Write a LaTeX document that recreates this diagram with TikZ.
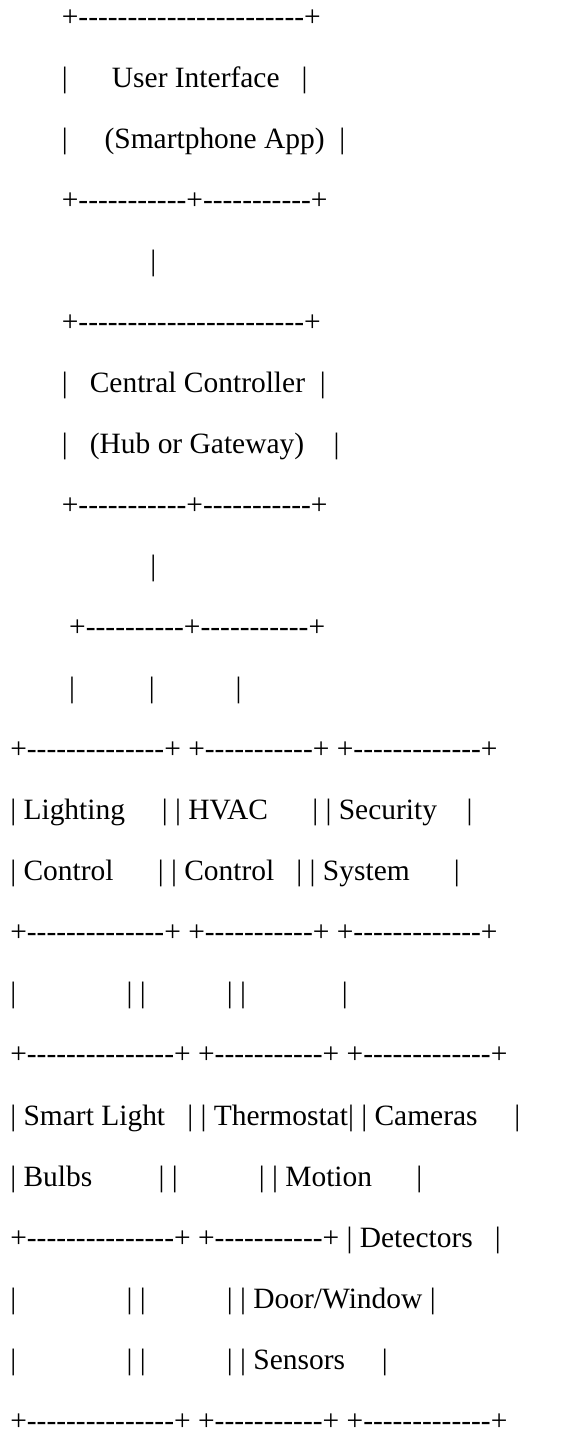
\documentclass[tikz,border=0pt]{standalone}
\usepackage{fontspec}
\setmainfont{Liberation Serif}[Ligatures=TeXOff]
\newcommand\gap[1]{\hspace*{#1\fontdimen2\font}}
\tikzset{
  asciirow/.style={anchor=base west,inner sep=0pt,outer sep=0pt,
    font=\fontsize{22.1}{22.1}\selectfont}
}

\begin{document}
\begin{tikzpicture}[x=0.75pt,y=-0.75pt]
\useasboundingbox (0,0) rectangle (566,1432);

\pgfmathsetmacro\lead{61.04}

% one node per printed row, spaces kept as \gap
\foreach \txt [count=\i] in {
  {\gap{7}+-----------------------+},
  {\gap{7}|\gap{6}User Interface\gap{3}|},
  {\gap{7}|\gap{5}(Smartphone App)\gap{2}|},
  {\gap{7}+-----------+-----------+},
  {\gap{19}|},
  {\gap{7}+-----------------------+},
  {\gap{7}|\gap{3}Central Controller\gap{2}|},
  {\gap{7}|\gap{3}(Hub or Gateway)\gap{4}|},
  {\gap{7}+-----------+-----------+},
  {\gap{19}|},
  {\gap{8}+----------+-----------+},
  {\gap{8}|\gap{10}|\gap{11}|},
  {+--------------+ +-----------+ +-------------+},
  {| Lighting\gap{5}| | HVAC\gap{6}| | Security\gap{4}|},
  {| Control\gap{6}| | Control\gap{3}| | System\gap{6}|},
  {+--------------+ +-----------+ +-------------+},
  {|\gap{15}| |\gap{11}| |\gap{13}|},
  {+---------------+ +-----------+ +-------------+},
  {| Smart Light\gap{3}| | Thermostat| | Cameras\gap{5}|},
  {| Bulbs\gap{9}| |\gap{11}| | Motion\gap{6}|},
  {+---------------+ +-----------+ | Detectors\gap{3}|},
  {|\gap{15}| |\gap{11}| | Door/Window |},
  {|\gap{15}| |\gap{11}| | Sensors\gap{5}|},
  {+---------------+ +-----------+ +-------------+}
}{
  \node[asciirow] (row\i) at (10.3,{26.3+(\i-1)*\lead}) {\txt};
}
\end{tikzpicture}
\end{document}
